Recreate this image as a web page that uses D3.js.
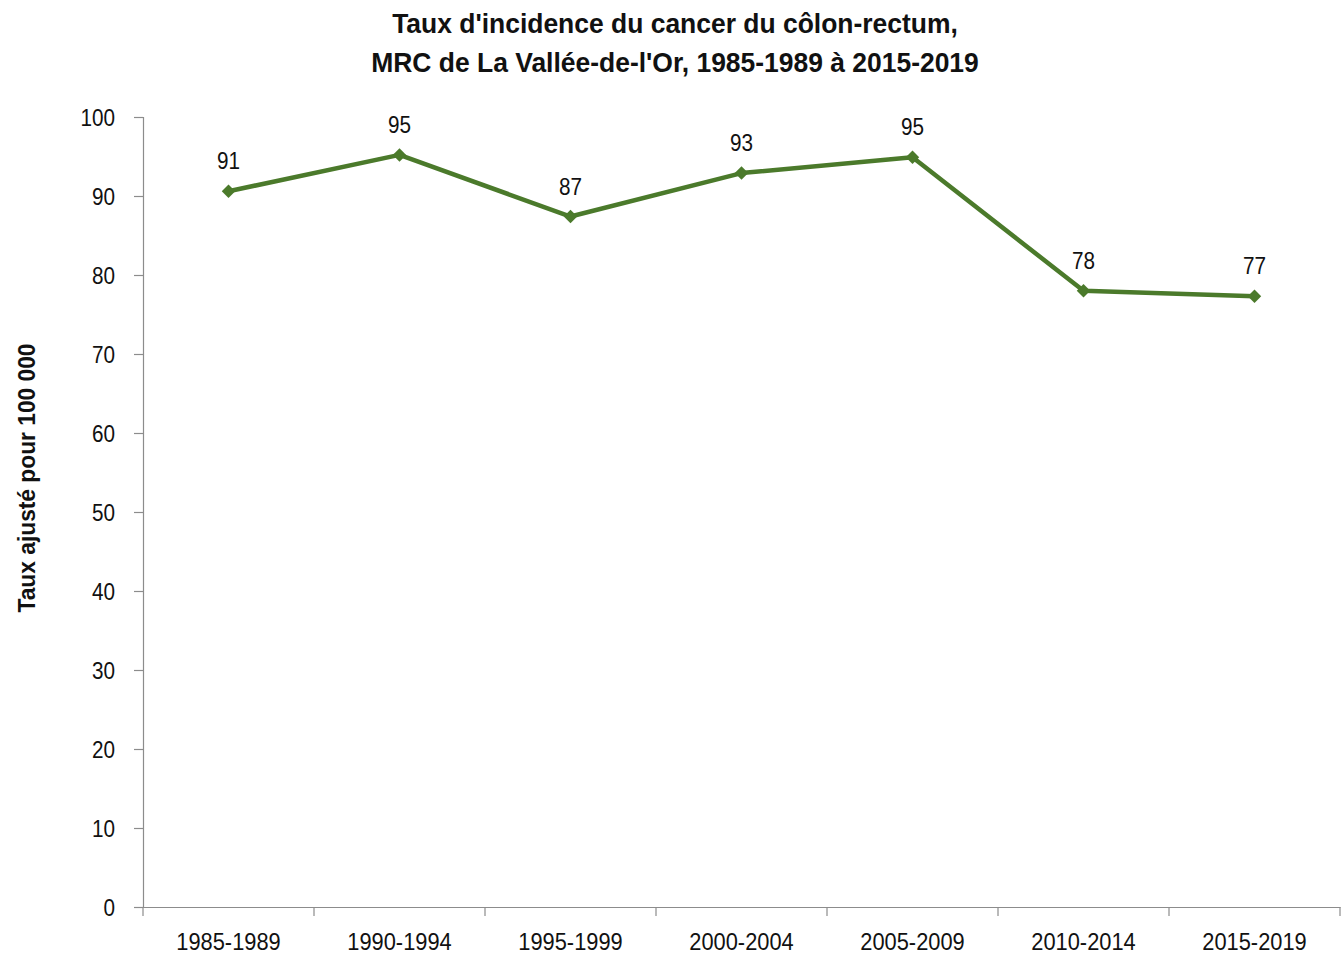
<!DOCTYPE html>
<html lang="fr">
<head>
<meta charset="utf-8">
<script src="https://cdn.jsdelivr.net/npm/d3@7"></script>
<style>
  html, body { margin: 0; padding: 0; background: #fff; }
  svg { display: block; }
  text { font-family: "Liberation Sans", Arial, sans-serif; fill: #111; }
</style>
</head>
<body>
<svg id="chart" width="1343" height="956"></svg>
<script>
// Periods and age-adjusted incidence rates (per 100 000)
const periods = ["1985-1989", "1990-1994", "1995-1999", "2000-2004", "2005-2009", "2010-2014", "2015-2019"];
const rates = [90.6, 95.2, 87.4, 92.9, 94.9, 78.0, 77.3];
const yTicks = [0, 10, 20, 30, 40, 50, 60, 70, 80, 90, 100];
const titleLines = ["Taux d'incidence du cancer du côlon-rectum,", "MRC de La Vallée-de-l'Or, 1985-1989 à 2015-2019"];
const yTitle = "Taux ajusté pour 100 000";

const svg = d3.select("#chart");
const margin = { left: 143, right: 3, top: 117, bottom: 49 };
const W = 1343, H = 956;

const x = d3.scaleBand().domain(periods).range([margin.left, W - margin.right]);
const y = d3.scaleLinear().domain([0, 100]).range([H - margin.bottom, margin.top]);

const axisColor = "#8c8c8c";
const lineColor = "#4b7a2b";
const narrow = 0.9;   // horizontal squeeze for a condensed look

// Place a text at (px, py) with a horizontal squeeze
function squeeze(sel, px, py, sx) {
  sel.attr("x", 0).attr("y", 0)
     .attr("transform", (d, i) => `translate(${typeof px === "function" ? px(d, i) : px},${typeof py === "function" ? py(d, i) : py}) scale(${sx},1)`);
}

// Title
svg.append("g").selectAll("text").data(titleLines).join("text")
  .attr("text-anchor", "middle")
  .attr("font-size", 27).attr("font-weight", "bold")
  .text(d => d)
  .call(squeeze, 675, (d, i) => 33 + i * 39, 0.98);

// Y axis
const yAxis = svg.append("g").attr("transform", `translate(${margin.left},0)`)
  .call(d3.axisLeft(y).tickValues(yTicks).tickSize(9));
yAxis.selectAll(".domain, .tick line").attr("stroke", axisColor).attr("stroke-width", 1.2);
yAxis.selectAll(".tick text")
  .attr("font-size", 23).attr("fill", "#111").attr("font-family", null)
  .attr("dy", "0.35em")
  .call(squeeze, -28, 0, narrow);

// X axis with ticks at band boundaries
const xAxis = svg.append("g").attr("transform", `translate(0,${y(0)})`)
  .call(d3.axisBottom(x).tickSize(0));
xAxis.select(".domain").attr("stroke", axisColor).attr("stroke-width", 1.2);
xAxis.selectAll(".tick text")
  .attr("font-size", 23).attr("fill", "#111").attr("font-family", null)
  .attr("dy", null)
  .call(squeeze, 0, 43, 0.95);
const bounds = periods.map(p => x(p)).concat([x(periods[periods.length - 1]) + x.bandwidth()]);
xAxis.selectAll("line.bound").data(bounds).join("line")
  .attr("class", "bound")
  .attr("x1", d => d).attr("x2", d => d)
  .attr("y1", 0).attr("y2", 9)
  .attr("stroke", axisColor).attr("stroke-width", 1.2);

// Y axis title
svg.append("text")
  .attr("transform", `translate(35,478) rotate(-90) scale(0.99,1)`)
  .attr("text-anchor", "middle")
  .attr("font-size", 23).attr("font-weight", "bold")
  .text(yTitle);

// Series line
const cx = d => x(d.p) + x.bandwidth() / 2;
const data = periods.map((p, i) => ({ p, v: rates[i] }));
svg.append("path").datum(data)
  .attr("fill", "none").attr("stroke", lineColor).attr("stroke-width", 4.5)
  .attr("stroke-linejoin", "round")
  .attr("d", d3.line().x(cx).y(d => y(d.v)));

// Diamond markers
const diamond = d3.symbol().type(d3.symbolDiamond2).size(115);
svg.append("g").selectAll("path").data(data).join("path")
  .attr("transform", d => `translate(${cx(d)},${y(d.v)})`)
  .attr("d", diamond)
  .attr("fill", lineColor);

// Value labels
svg.append("g").selectAll("text").data(data).join("text")
  .attr("text-anchor", "middle")
  .attr("font-size", 23)
  .text(d => d3.format(".0f")(d.v))
  .call(squeeze, cx, d => y(d.v) - 22, narrow);
</script>
</body>
</html>
